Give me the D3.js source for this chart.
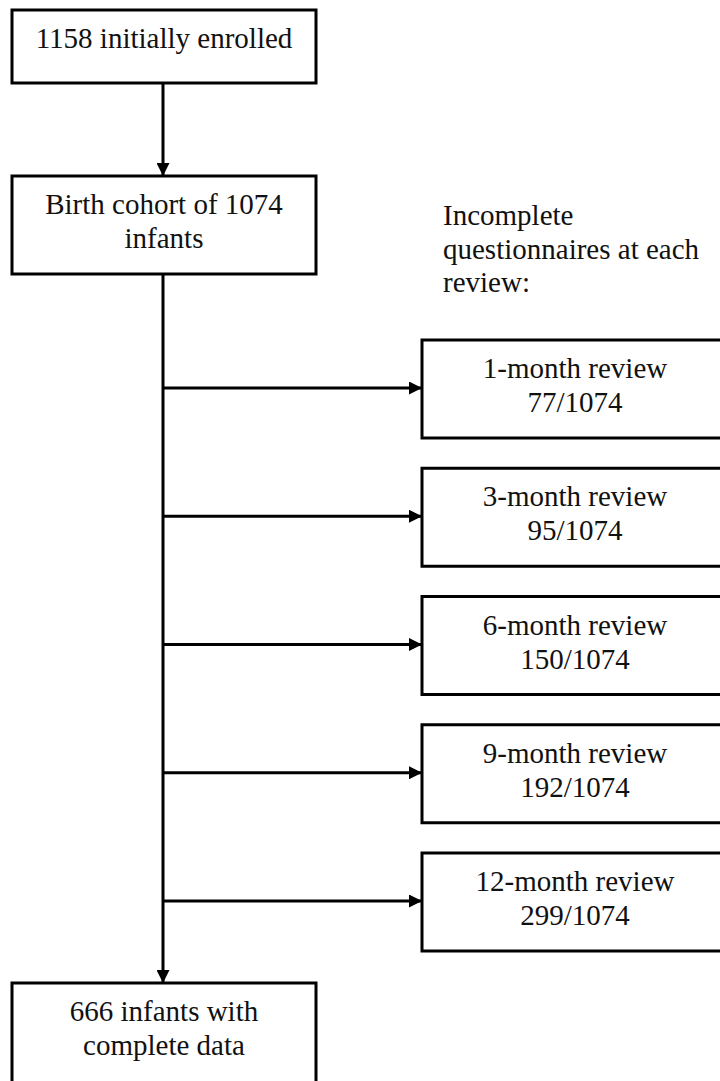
<!DOCTYPE html>
<html>
<head>
<meta charset="utf-8">
<script src="https://cdn.jsdelivr.net/npm/d3@7"></script>
<style>
  body { margin: 0; background: #fff; overflow: hidden; }
  svg text { font-family: "Liberation Serif", "Times New Roman", serif; font-size: 29px; fill: #111; }
</style>
</head>
<body>
<div id="chart"></div>
<script>
// flow counts
var enrolled = 1158;
var cohort = 1074;
var completeData = 666;

// incomplete questionnaires at each review
var reviewNames = ["1-month review", "3-month review", "6-month review", "9-month review", "12-month review"];
var reviewMissing = [77, 95, 150, 192, 299];

var sideNote = ["Incomplete", "questionnaires at each", "review:"];

var w = 720, h = 1081;
var svg = d3.select("#chart").append("svg")
    .attr("width", w)
    .attr("height", h)
    .style("display", "block");

svg.append("defs").append("marker")
    .attr("id", "head")
    .attr("viewBox", "0 0 10 10")
    .attr("refX", 10).attr("refY", 5)
    .attr("markerUnits", "userSpaceOnUse")
    .attr("markerWidth", 15).attr("markerHeight", 13)
    .attr("orient", "auto")
  .append("path")
    .attr("d", "M0,0L10,5L0,10Z")
    .style("fill", "#000");

// left column boxes; right boxes run off the page edge like the original
var leftX = 12, leftW = 304, mainX = 163;
var rightX = 422, rightW = 306, boxH = 98;

// rows of the review boxes
var rowScale = d3.scalePoint()
    .domain(reviewNames)
    .range([340, 853]);

function box(x, y, width, height, lines) {
    var g = svg.append("g");
    g.append("rect")
        .attr("x", x).attr("y", y)
        .attr("width", width).attr("height", height)
        .style("fill", "#fff")
        .style("stroke", "#000")
        .style("stroke-width", 3);
    g.selectAll("text")
        .data(lines)
        .enter().append("text")
        .attr("x", x + width / 2)
        .attr("y", (d, i) => y + 38 + i * 34)
        .attr("text-anchor", "middle")
        .text(d => d);
    return g;
}

function arrow(x1, y1, x2, y2) {
    svg.append("line")
        .attr("x1", x1).attr("y1", y1)
        .attr("x2", x2).attr("y2", y2)
        .style("stroke", "#000")
        .style("stroke-width", 3)
        .attr("marker-end", "url(#head)");
}

// top box and cohort box
box(leftX, 10, leftW, 73, [enrolled + " initially enrolled"]);
arrow(mainX, 83, mainX, 176);
box(leftX, 176, leftW, 98, ["Birth cohort of " + cohort, "infants"]);

// trunk down to final box (its bottom edge is cut off by the page)
arrow(mainX, 274, mainX, 983);
box(leftX, 983, leftW, 110, [completeData + " infants with", "complete data"]);

// side note
svg.append("g").selectAll("text")
    .data(sideNote)
    .enter().append("text")
    .attr("x", 443)
    .attr("y", (d, i) => 225 + i * 33.5)
    .text(d => d);

// branches to each review box
reviewNames.forEach(function(name, i) {
    var y = rowScale(name);
    arrow(mainX, y + 48, rightX, y + 48);
    box(rightX, y, rightW, boxH, [name, reviewMissing[i] + "/" + cohort]);
});
</script>
</body>
</html>
